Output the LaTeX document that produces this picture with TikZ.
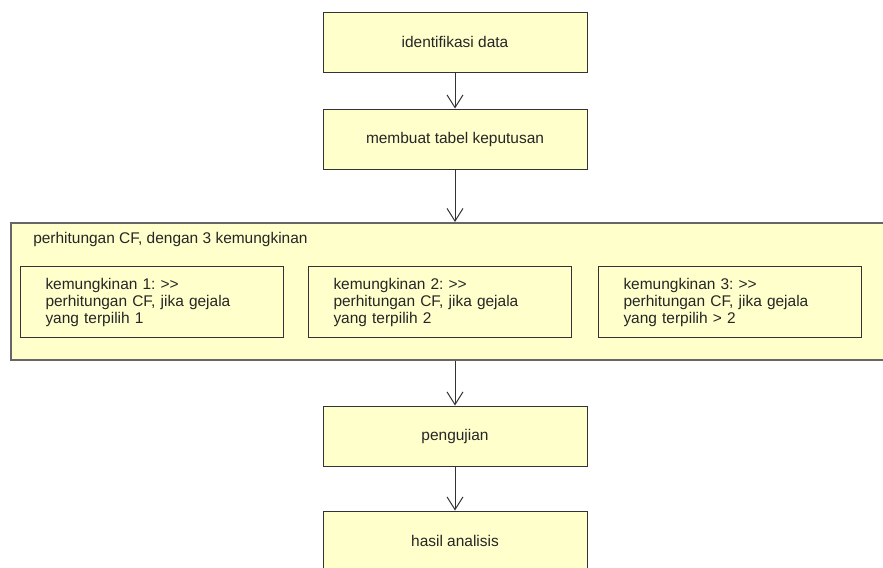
\documentclass[tikz,border=0pt]{standalone}
\usepackage{fontspec}
\setmainfont{Liberation Sans}
\usepackage{xcolor}
\usetikzlibrary{arrows.meta, positioning}
\frenchspacing

\definecolor{boxfill}{HTML}{FFFFCC}
\definecolor{boxline}{HTML}{333333}
\definecolor{grpline}{HTML}{666666}

\begin{document}
\begin{tikzpicture}[
  x = 0.75pt, y = -0.75pt,
  stepbox/.style = {draw=boxline, fill=boxfill, line width=0.75pt, align=center,
                    minimum width=198pt, minimum height=45pt, inner sep=0pt,
                    text=black!85, font=\fontsize{11.6}{12.75}\selectfont},
  optbox/.style  = {draw=boxline, fill=boxfill, line width=0.75pt, align=left,
                    minimum width=197.25pt, minimum height=53.25pt,
                    inner xsep=18.75pt, text width=159.75pt, anchor=north west,
                    text=black!85, font=\fontsize{11.6}{12.75}\selectfont\frenchspacing},
  grpbox/.style  = {draw=grpline, fill=boxfill, line width=1.2pt,
                    minimum width=660pt, minimum height=102.75pt,
                    inner sep=0pt, anchor=north west},
  arr/.style     = {-{Straight Barb[length=9.5pt, width=12pt]}, boxline, line width=0.75pt}
]
\useasboundingbox (0,0) rectangle (883,568);

\node[stepbox] (ident) at (455,42) {identifikasi data};
\node[stepbox, below=27pt of ident] (tabel) {membuat tabel keputusan};

% container with the three cases
\node[grpbox] (cf) at (10,222) {};
\node[anchor=west, inner sep=0pt, text=black!85,
      font=\fontsize{11.6}{12.75}\selectfont] (cftitle) at (33,239)
      {perhitungan CF, dengan 3 kemungkinan};
\node[optbox] (k1) at (20,266) {kemungkinan 1: >\kern0pt>\\perhitungan CF, jika gejala\\yang terpilih 1};
\node[optbox, right=18pt of k1] (k2) {kemungkinan 2: >\kern0pt>\\perhitungan CF, jika gejala\\yang terpilih 2};
\node[optbox, right=19.5pt of k2] (k3) {kemungkinan 3: >\kern0pt>\\perhitungan CF, jika gejala\\yang terpilih > 2};

\node[stepbox] (uji) at (455,436) {pengujian};
\node[stepbox, below=33pt of uji] (hasil) {hasil analisis};

\draw[arr] (ident) -- (tabel);
\draw[arr] (tabel.south) -- (tabel.south |- cf.north);
\draw[arr] (cf.south -| uji.north) -- (uji.north);
\draw[arr] (uji) -- (hasil);
\end{tikzpicture}
\end{document}
